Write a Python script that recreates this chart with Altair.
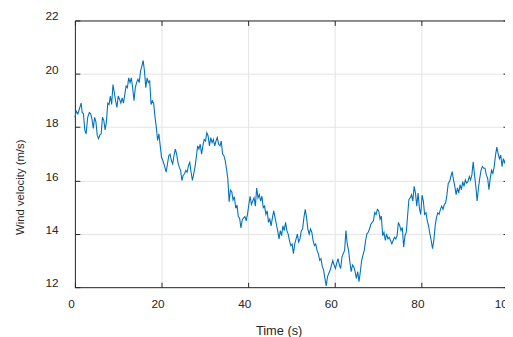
import altair as alt
import pandas as pd

time_s = [
    0.00, 0.30, 0.68, 1.06, 1.44, 1.67, 1.97, 2.27, 2.58, 2.95, 3.33, 3.64, 3.94, 4.24, 4.55, 4.85,
    5.15, 5.45, 5.76, 6.06, 6.36, 6.67, 6.97, 7.27, 7.58, 7.88, 8.18, 8.48, 8.79, 9.09, 9.39, 9.70,
    10.00, 10.30, 10.61, 10.91, 11.21, 11.52, 11.82, 12.12, 12.42, 12.73, 13.03, 13.33, 13.64, 13.94,
    14.24, 14.55, 14.85, 15.15, 15.45, 15.76, 16.06, 16.36, 16.67, 16.97, 17.27, 17.58, 17.88, 18.18,
    18.48, 18.79, 19.09, 19.39, 19.70, 20.00, 20.30, 20.68, 21.07, 21.37, 21.67, 21.97, 22.28, 22.58,
    22.88, 23.19, 23.49, 23.79, 24.09, 24.40, 24.70, 25.00, 25.31, 25.61, 25.91, 26.22, 26.52, 26.82,
    27.13, 27.43, 27.73, 28.03, 28.34, 28.64, 28.94, 29.25, 29.55, 29.85, 30.16, 30.46, 30.76, 31.07,
    31.37, 31.67, 31.97, 32.28, 32.58, 32.88, 33.19, 33.49, 33.79, 34.10, 34.40, 34.70, 35.00, 35.31,
    35.61, 35.91, 36.22, 36.52, 36.82, 37.13, 37.43, 37.73, 38.03, 38.34, 38.64, 38.94, 39.25, 39.55,
    39.85, 40.16, 40.46, 40.76, 41.07, 41.37, 41.67, 41.97, 42.28, 42.58, 42.88, 43.19, 43.49, 43.79,
    44.10, 44.40, 44.70, 45.00, 45.31, 45.61, 45.91, 46.22, 46.52, 46.82, 47.13, 47.43, 47.73, 48.03,
    48.34, 48.64, 48.94, 49.25, 49.55, 49.85, 50.16, 50.46, 50.76, 51.07, 51.37, 51.67, 51.97, 52.28,
    52.58, 52.88, 53.19, 53.49, 53.79, 54.10, 54.40, 54.70, 55.00, 55.31, 55.61, 55.91, 56.22, 56.52,
    56.82, 57.13, 57.43, 57.73, 58.03, 58.34, 58.64, 58.94, 59.25, 59.55, 59.85, 60.16, 60.46, 60.76,
    61.07, 61.37, 61.67, 61.97, 62.28, 62.58, 62.88, 63.19, 63.49, 63.79, 64.10, 64.40, 64.70, 65.00,
    65.31, 65.61, 65.91, 66.22, 66.52, 66.82, 67.13, 67.43, 67.73, 68.03, 68.34, 68.64, 68.94, 69.25,
    69.55, 69.85, 70.16, 70.46, 70.76, 71.07, 71.37, 71.67, 71.97, 72.28, 72.58, 72.88, 73.19, 73.49,
    73.79, 74.10, 74.40, 74.70, 75.00, 75.31, 75.61, 75.91, 76.22, 76.52, 76.82, 77.13, 77.43, 77.73,
    78.03, 78.34, 78.64, 78.94, 79.25, 79.55, 79.85, 80.16, 80.46, 80.76, 81.07, 81.37, 81.67, 81.97,
    82.28, 82.58, 82.88, 83.19, 83.49, 83.79, 84.10, 84.40, 84.70, 85.00, 85.31, 85.61, 85.91, 86.22,
    86.52, 86.82, 87.13, 87.43, 87.73, 88.03, 88.34, 88.64, 88.94, 89.25, 89.55, 89.85, 90.16, 90.46,
    90.76, 91.07, 91.37, 91.67, 91.97, 92.28, 92.58, 92.88, 93.19, 93.49, 93.79, 94.10, 94.40, 94.70,
    95.00, 95.31, 95.61, 95.91, 96.22, 96.52, 96.82, 97.13, 97.43, 97.73, 98.03, 98.34, 98.64, 98.94,
    99.25, 99.55, 100.00,
]

wind_ms = [
    18.37, 18.60, 18.50, 18.70, 18.90, 18.55, 18.50, 17.90, 17.75, 18.37, 18.55, 18.50, 18.30, 17.95, 18.37, 18.20,
    17.70, 17.57, 17.70, 17.75, 18.37, 18.25, 17.90, 18.20, 18.90, 18.85, 19.17, 18.85, 19.60, 19.30, 18.99, 18.74,
    19.17, 19.05, 18.90, 19.10, 18.90, 19.23, 19.54, 19.48, 19.85, 19.67, 19.85, 19.48, 18.99, 19.48,
    19.67, 19.80, 19.67, 20.10, 20.28, 20.50, 20.10, 19.48, 19.85, 19.67, 19.73, 18.85, 18.99, 18.90,
    18.40, 18.00, 17.50, 17.75, 17.30, 16.87, 16.75, 16.56, 16.31, 16.62, 16.93, 16.99, 16.75, 16.62,
    16.93, 17.18, 16.99, 16.68, 16.50, 16.38, 16.00, 16.19, 16.25, 16.38, 16.31, 16.56, 16.68, 16.31,
    16.00, 16.25, 16.50, 16.87, 17.30, 17.18, 17.36, 16.99, 17.30, 17.54, 17.48, 17.79, 17.67, 17.30,
    17.61, 17.42, 17.54, 17.30, 17.48, 17.61, 17.36, 17.30, 17.48, 16.99, 16.93, 16.75, 16.44, 16.07,
    15.20, 15.64, 15.58, 15.27, 15.39, 14.96, 15.08, 14.65, 14.59, 14.22, 14.53, 14.59, 14.65, 14.49,
    14.73, 15.10, 15.41, 15.10, 15.23, 15.35, 15.04, 15.72, 15.35, 15.47, 15.23, 15.41, 14.98, 15.04,
    14.73, 14.86, 14.43, 14.55, 14.30, 14.61, 14.86, 14.61, 14.36, 14.12, 13.81, 14.12, 13.93, 14.30,
    14.12, 14.43, 14.12, 13.99, 13.75, 13.56, 13.62, 13.26, 13.62, 13.81, 13.99, 13.69, 13.81, 14.12,
    14.18, 14.61, 14.92, 14.61, 14.18, 13.99, 14.18, 14.06, 13.75, 13.56, 13.62, 13.38, 13.26, 13.01,
    13.07, 12.77, 12.64, 12.33, 12.05, 12.40, 12.52, 12.64, 12.83, 13.00, 12.83, 12.70, 12.90, 13.07,
    12.83, 12.70, 13.13, 13.26, 13.38, 14.12, 13.63, 13.38, 12.95, 12.58, 12.83, 12.77, 12.58, 12.33,
    12.58, 12.21, 12.58, 13.01, 13.20, 13.38, 13.75, 14.00, 14.06, 14.18, 14.36, 14.43, 14.49, 14.80,
    14.73, 14.92, 14.86, 14.55, 14.67, 13.93, 14.06, 13.75, 14.00, 13.81, 13.87, 13.75, 13.63, 13.75,
    13.87, 13.81, 13.93, 14.43, 14.31, 14.12, 14.24, 13.50, 13.93, 14.06, 14.67, 15.29, 15.35, 15.47,
    15.23, 15.78, 15.53, 15.04, 15.53, 14.95, 14.73, 15.45, 15.23, 14.73, 14.79, 14.49, 14.30, 14.00,
    13.75, 13.44, 13.75, 14.30, 14.61, 14.79, 14.73, 14.92, 15.04, 14.92, 15.10, 15.16, 15.47, 15.90,
    15.96, 16.15, 16.33, 16.02, 15.78, 15.47, 15.72, 15.53, 15.84, 15.66, 15.96, 15.78, 16.02, 15.90,
    15.96, 16.15, 16.02, 16.21, 16.70, 16.21, 15.78, 15.23, 15.72, 16.09, 16.39, 16.52, 16.46, 16.46,
    16.21, 16.09, 15.66, 16.09, 16.39, 16.27, 16.52, 16.95, 17.25, 17.01, 16.82, 16.95, 16.52, 16.82,
    16.64, 16.90, 16.75,
]

x_ticks = [0, 20, 40, 60, 80, 100]
y_ticks = [12, 14, 16, 18, 20, 22]

df = pd.DataFrame({"t": time_s, "v": wind_ms})

FONT = "Liberation Sans"
DARK = "#262626"
GRID = "#e3e3e3"

xs = alt.Scale(domain=[0, 100], range=[0, 440], nice=False, zero=False)
ys = alt.Scale(domain=[12, 22], nice=False, zero=False)

base = alt.Chart(df)

main = base.mark_line(color="#0072BD", strokeWidth=1.1).encode(
    x=alt.X("t:Q", scale=xs, axis=alt.Axis(
        orient="bottom", values=x_ticks, grid=True, gridColor=GRID, gridWidth=1,
        ticks=False, tickSize=0, domain=True, domainColor=DARK, domainWidth=1,
        labelFont=FONT, labelFontSize=12, labelColor=DARK, labelPadding=12, labelOffset=-4,
        labelFlush=False, labelOverlap=False,
        title="Time (s)", titleFont=FONT, titleFontSize=13, titleFontWeight="normal",
        titleColor=DARK, titlePadding=15, titleX=207)),
    y=alt.Y("v:Q", scale=ys, axis=alt.Axis(
        orient="left", values=y_ticks, grid=True, gridColor=GRID, gridWidth=1,
        ticks=False, tickSize=0, domain=True, domainColor=DARK, domainWidth=1,
        labelFont=FONT, labelFontSize=12, labelColor=DARK, labelPadding=17, labelOffset=-4.5,
        labelFlush=False,
        title="Wind velocity (m/s)", titleFont=FONT, titleFontSize=11.5, titleFontWeight="normal",
        titleColor=DARK, titlePadding=19.5, titleY=169)),
)

tick_kw = dict(grid=False, domain=False, labels=False, ticks=True, tickSize=5,
               tickColor=DARK, tickWidth=1, title="")

inner1 = base.mark_line(opacity=0).encode(
    x=alt.X("t:Q", scale=xs, axis=alt.Axis(orient="bottom", offset=-5, values=x_ticks, **tick_kw)),
    y=alt.Y("v:Q", scale=ys, axis=alt.Axis(orient="left", offset=-5, values=y_ticks, **tick_kw)),
)

inner2 = base.mark_line(opacity=0).encode(
    x=alt.X("t:Q", scale=xs, axis=alt.Axis(orient="top", grid=False, domain=True, domainColor=DARK,
                                             domainWidth=1, ticks=False, labels=False, title="")),
    y=alt.Y("v:Q", scale=ys, axis=alt.Axis(orient="right", offset=-2, values=y_ticks, **tick_kw)),
)

inner3 = base.mark_line(opacity=0).encode(
    x=alt.X("t:Q", scale=xs, axis=alt.Axis(orient="top", offset=-5, values=x_ticks, **tick_kw)),
    y=alt.Y("v:Q", scale=ys, axis=None),
)

chart = alt.layer(main, inner1, inner2, inner3).resolve_axis(
    x="independent", y="independent"
).properties(
    width=437, height=271,
    padding={"left": 68, "top": 10, "right": 0, "bottom": 52},
    autosize=alt.AutoSizeParams(type="none"),
    background="white",
).configure_view(stroke=None)

chart.save("out.html", embed_options={"renderer": "svg", "actions": False})
